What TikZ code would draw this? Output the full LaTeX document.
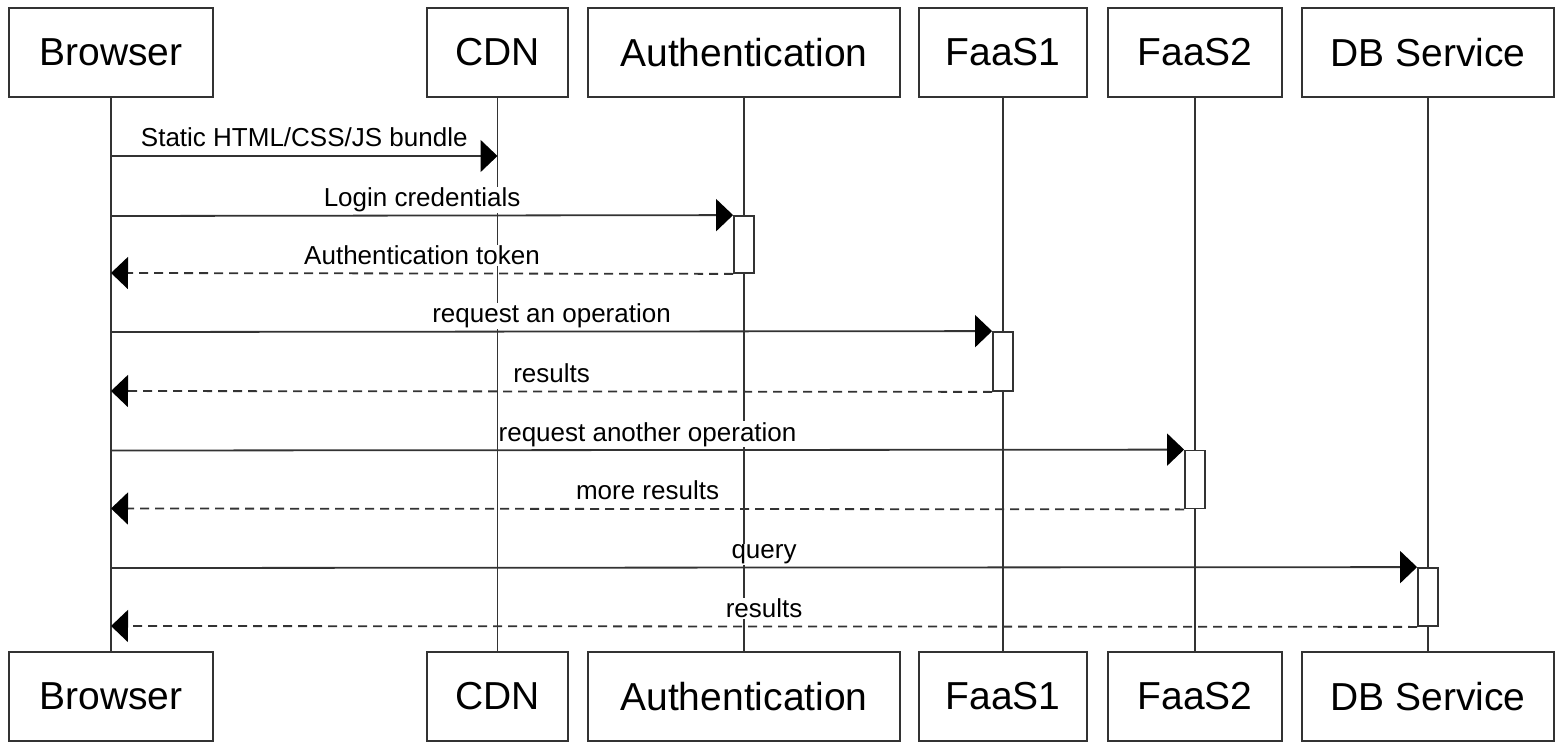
\documentclass[tikz,border=0pt]{standalone}
\usepackage{fontspec}
\setmainfont{Liberation Sans}
\usetikzlibrary{arrows.meta}
\definecolor{ln}{HTML}{333333}
\begin{document}
\begin{tikzpicture}[x=1pt,y=-1pt,
  actor/.style={draw=ln, line width=1.8pt, fill=white, minimum height=89pt, inner sep=0pt, font=\fontsize{39}{47}\selectfont},
  life/.style={draw=ln, line width=1.8pt},
  actbox/.style={draw=ln, line width=1.8pt, fill=white, minimum width=20pt, inner sep=0pt},
  msg/.style={font=\fontsize{26}{31}\selectfont, anchor=base, inner sep=1pt, fill=white, yshift=9pt},
  call/.style={draw=ln, line width=1.8pt, -{Triangle[length=17pt,width=32pt,color=black]}},
  ret/.style={call, dash pattern=on 9pt off 6pt}]
\useasboundingbox (0,0) rectangle (1556,749);
% participants (top)
\node[actor, minimum width=204pt] (bT) at (111,52.5) {Browser};
\node[actor, minimum width=141pt] (cT) at (497.5,52.5) {CDN};
\node[actor, minimum width=312pt] (aT) at (744,52.5) {Authentication};
\node[actor, minimum width=168pt] (f1T) at (1003,52.5) {FaaS1};
\node[actor, minimum width=174pt] (f2T) at (1195,52.5) {FaaS2};
\node[actor, minimum width=252pt] (dT) at (1428,52.5) {DB Service};
% participants (bottom)
\node[actor, minimum width=204pt] (bB) at (111,696.5) {Browser};
\node[actor, minimum width=141pt] (cB) at (497.5,696.5) {CDN};
\node[actor, minimum width=312pt] (aB) at (744,696.5) {Authentication};
\node[actor, minimum width=168pt] (f1B) at (1003,696.5) {FaaS1};
\node[actor, minimum width=174pt] (f2B) at (1195,696.5) {FaaS2};
\node[actor, minimum width=252pt] (dB) at (1428,696.5) {DB Service};
% lifelines
\draw[life] (bT) -- (bB);
\draw[life] (cT) -- (cB);
\draw[life] (aT) -- (aB);
\draw[life] (f1T) -- (f1B);
\draw[life] (f2T) -- (f2B);
\draw[life] (dT) -- (dB);
% activations
\node[actbox, minimum height=57pt] (aA) at (744,244.5) {};
\node[actbox, minimum height=59pt] (f1A) at (1003,361.5) {};
\node[actbox, minimum height=58pt] (f2A) at (1195,479.5) {};
\node[actbox, minimum height=58pt] (dA) at (1428,597) {};
% message endpoints on the browser lifeline
\coordinate (m0) at (111,156);
\coordinate (e0) at (497.5,156);
\coordinate (m1) at (111,216);
\coordinate (m2) at (111,273);
\coordinate (m3) at (111,332);
\coordinate (m4) at (111,391);
\coordinate (m5) at (111,450.5);
\coordinate (m6) at (111,508.5);
\coordinate (m7) at (111,568);
\coordinate (m8) at (111,626);
% messages
\draw[call] (m0) -- node[msg] {Static HTML/CSS/JS bundle} (e0);
\draw[call] (m1) -- node[msg] {Login credentials} (aA.north west);
\draw[ret] (aA.south west) -- node[msg] {Authentication token} (m2);
\draw[call] (m3) -- node[msg] {request an operation} (f1A.north west);
\draw[ret] (f1A.south west) -- node[msg] {results} (m4);
\draw[call] (m5) -- node[msg] {request another operation} (f2A.north west);
\draw[ret] (f2A.south west) -- node[msg] {more results} (m6);
\draw[call] (m7) -- node[msg] {query} (dA.north west);
\draw[ret] (dA.south west) -- node[msg] {results} (m8);
\end{tikzpicture}
\end{document}
